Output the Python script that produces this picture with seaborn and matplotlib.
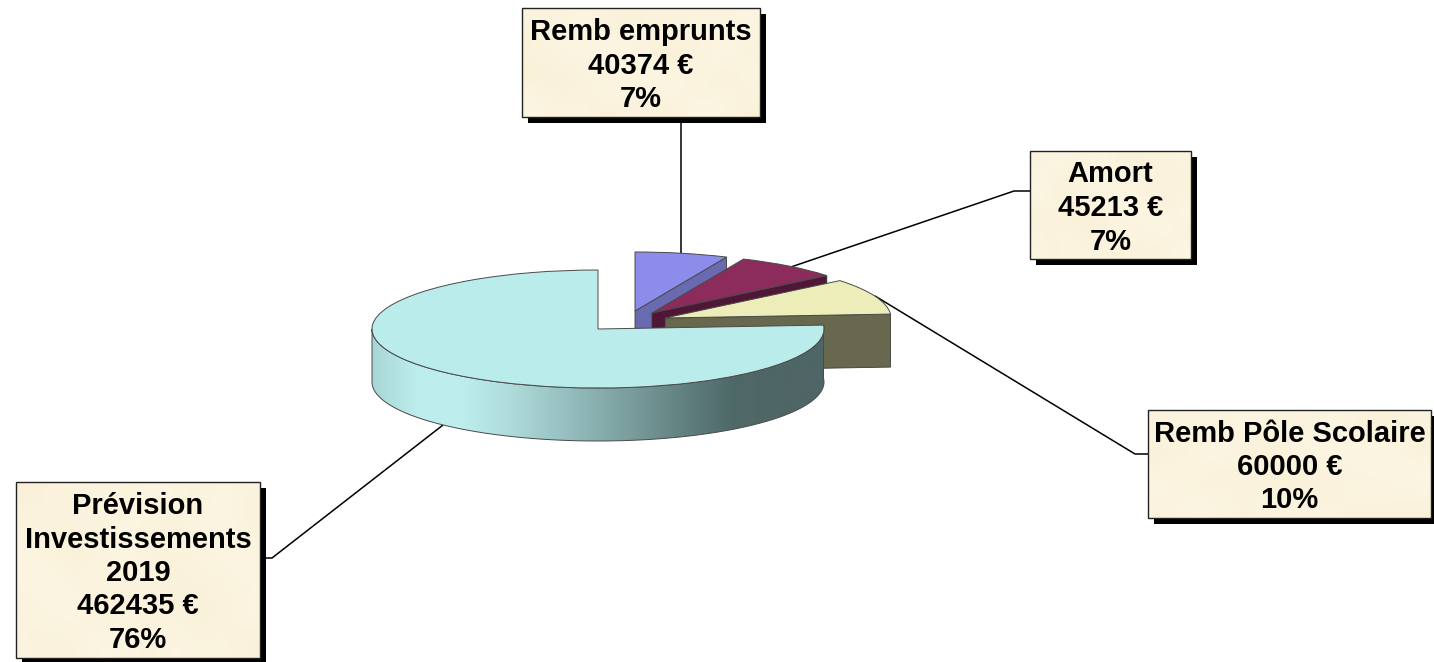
import numpy as np
import matplotlib
matplotlib.use('Agg')
import matplotlib.pyplot as plt
from matplotlib.patches import Polygon, Rectangle
from matplotlib.transforms import Affine2D
import seaborn as sns

# data
names = ['Remb emprunts', 'Amort', 'Remb Pôle Scolaire', 'Prévision\nInvestissements\n2019']
amounts = [40374, 45213, 60000, 462435]
percents = [7, 7, 10, 76]

# colours of each slice, top face and straight wall
top_colors = ['#8C8CEA', '#8B2C5C', '#EDEDB9', '#BBECEC']
wall_colors = ['#6A6AB0', '#4F1636', '#68684F', '#BBECEC']
# slice offset in pixels from the pie centre
offsets = [(37, -18), (54, -16), (67, -11), (0, 0)]
# label boxes x0, y0, x1, y1
boxes = [(522, 8, 760, 117), (1030, 151, 1191, 259), (1148, 410, 1431, 518), (16, 482, 260, 658)]
leaders = [
    ([681, 681], [123, 254]),
    ([1030, 1014, 788], [191, 191, 268]),
    ([1148, 1135, 875], [454, 454, 296]),
    ([260, 272, 443], [558, 558, 425]),
]
parchment = np.array([
    [.3, .6, .2, .5, .8, .4, .6, .3, .5, .2],
    [.7, .2, .1, .6, .3, .7, .3, .6, .2, .4],
    [.5, .4, .3, .1, .2, .5, .8, .4, .1, .6],
    [.8, .6, .5, .4, .3, .1, .4, .2, .7, .3],
    [.4, .7, .6, .2, .5, .3, .2, .6, .4, .5],
    [.2, .5, .3, .7, .4, .6, .5, .1, .3, .6],
])

cx, cy, rx, ry, depth = 598, 329, 226, 59, 53

sns.set_theme(style='white')
plt.rcParams['font.family'] = ['Liberation Sans', 'DejaVu Sans']
shade = sns.blend_palette(['#FDF7E6', '#F8EED2'], as_cmap=True)
side = sns.blend_palette(['#A8D6D6', '#BDEDED', '#BDEDED', '#B0DCDC', '#9CC6C6', '#88AEAE',
                          '#749696', '#607E7E', '#4F6868', '#4F6666', '#4F6666'], as_cmap=True)

fig = plt.figure(figsize=(14.34, 6.62), dpi=100)
ax = fig.add_axes([0, 0, 1, 1])

wedges, _ = ax.pie(amounts, startangle=90, counterclock=False, colors=top_colors,
                   wedgeprops={'edgecolor': '#4a4a4a', 'linewidth': 0.7})
ax.set_aspect('auto')
ax.set_xlim(0, 1434)
ax.set_ylim(662, 0)
ax.autoscale(False)
ax.axis('off')


def ellipse(theta, dx=0, dy=0, down=0):
    t = np.radians(theta)
    return np.column_stack([cx + dx + rx * np.cos(t), cy + dy - ry * np.sin(t) + down])


for i, w in enumerate(wedges):
    dx, dy = offsets[i]
    w.set_transform(Affine2D().scale(rx, -ry).translate(cx + dx, cy + dy) + ax.transData)
    w.set_zorder(3 + 2 * i)
    if i < 3:
        # straight wall under the lower edge of the slice
        apex = np.array([cx + dx, cy + dy])
        outer = ellipse(w.theta1, dx, dy)[0]
        quad = [apex, outer, outer + [0, depth], apex + [0, depth]]
        ax.add_patch(Polygon(quad, closed=True, facecolor=wall_colors[i], edgecolor='#3a3a3a',
                             linewidth=0.6, zorder=2 + 2 * i))
    else:
        # curved wall of the big slice
        arc = np.linspace(-180, w.theta2, 200)
        outline = np.vstack([ellipse(arc), ellipse(arc[::-1], down=depth)])
        wall = Polygon(outline, closed=True, facecolor='none', edgecolor='#4a4a4a',
                       linewidth=0.7, zorder=2 + 2 * i)
        ax.add_patch(wall)
        ramp = ax.imshow(np.linspace(0, 1, 256).reshape(1, -1), cmap=side, aspect='auto',
                         extent=(cx - rx, cx + rx, cy + ry + depth, cy - ry),
                         zorder=1.9 + 2 * i)
        ramp.set_clip_path(wall)

for xs, ys in leaders:
    ax.plot(xs, ys, color='black', lw=1.1, zorder=1, solid_joinstyle='miter')

for i, (x0, y0, x1, y1) in enumerate(boxes):
    ax.add_patch(Rectangle((x0 + 6, y0 + 6), x1 - x0, y1 - y0, facecolor='black', edgecolor='none',
                           zorder=20, clip_on=True))
    box = Rectangle((x0, y0), x1 - x0, y1 - y0, facecolor='none', edgecolor='#222222',
                    linewidth=1.0, zorder=22)
    ax.add_patch(box)
    ax.imshow(np.roll(parchment, i * 2, axis=1), cmap=shade, aspect='auto', vmin=0, vmax=1,
              extent=(x0, x1, y1, y0), interpolation='bicubic', zorder=21)
    label = '%s\n%d €\n%d%%' % (names[i], amounts[i], percents[i])
    ax.text((x0 + x1) / 2, (y0 + y1) / 2 + 3, label, ha='center', va='center', fontsize=21,
            fontweight='bold', color='black', linespacing=1.25, zorder=23)

ax.set_xlim(0, 1434)
ax.set_ylim(662, 0)
fig.savefig('out.png', dpi=100, facecolor='white')
